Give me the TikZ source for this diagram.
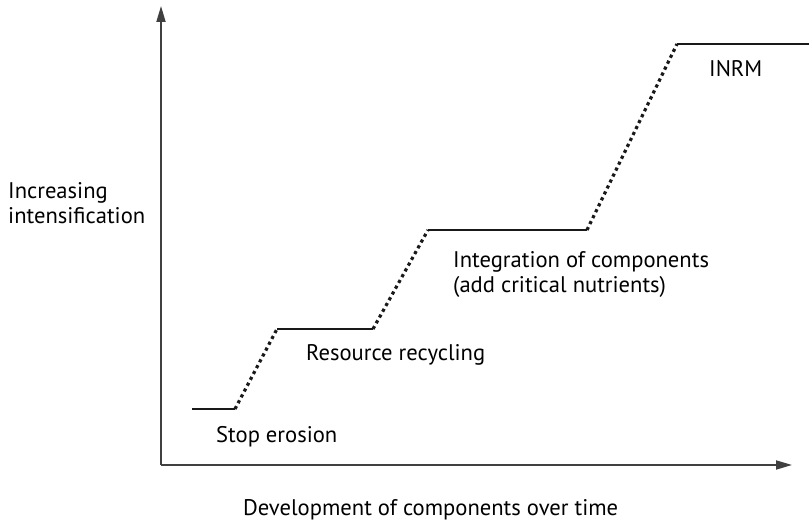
\documentclass[tikz,border=0pt]{standalone}
\usepackage{fontspec}
\setmainfont{PT Sans}
\usetikzlibrary{arrows.meta}

\begin{document}
\begin{tikzpicture}[x=1bp,y=1bp,
    axis/.style={line width=1.8bp,draw=black!75,-{Triangle[length=16bp,width=9bp]}},
    level/.style={line width=2.8bp,draw=black!90},
    rise/.style={line width=3.2bp,draw=black!90,dash pattern=on 3.2bp off 3.4bp},
    lbl/.style={anchor=base west,inner sep=0pt,align=left,
      font=\fontsize{22.6bp}{25bp}\selectfont}]
    \useasboundingbox (0,0) rectangle (809,522);
    % axes
    \coordinate (o) at (161,57);
    \coordinate (ytop) at (161,516);
    \coordinate (xend) at (792,57);
    \draw[axis] (o) -- (ytop);
    \draw[axis] (o) -- (xend);
    % steps
    \coordinate (s1a) at (192,113);
    \coordinate (s1b) at (235,113);
    \coordinate (s2a) at (277,193);
    \coordinate (s2b) at (373,193);
    \coordinate (s3a) at (428,292);
    \coordinate (s3b) at (587,292);
    \coordinate (s4a) at (677,478);
    \coordinate (s4b) at (809,478);
    \foreach \a/\b in {s1a/s1b,s2a/s2b,s3a/s3b,s4a/s4b}
    \draw[level] (\a) -- (\b);
    \foreach \a/\b in {s1b/s2a,s2b/s3a,s3b/s4a}
    \draw[rise] (\a) -- (\b);
    % labels (base = last line)
    \node[lbl] (erosion) at (216,79) {Stop erosion};
    \node[lbl] (recycling) at (306,161) {Resource recycling};
    \node[lbl] (integration) at (453,229) {Integration of components\\(add critical nutrients)};
    \node[lbl] (inrm) at (709,445) {INRM};
    \node[lbl] (ylabel) at (8,298) {Increasing\\intensification};
    \node[lbl] (xlabel) at (243,6) {Development of components over time};
\end{tikzpicture}
\end{document}
